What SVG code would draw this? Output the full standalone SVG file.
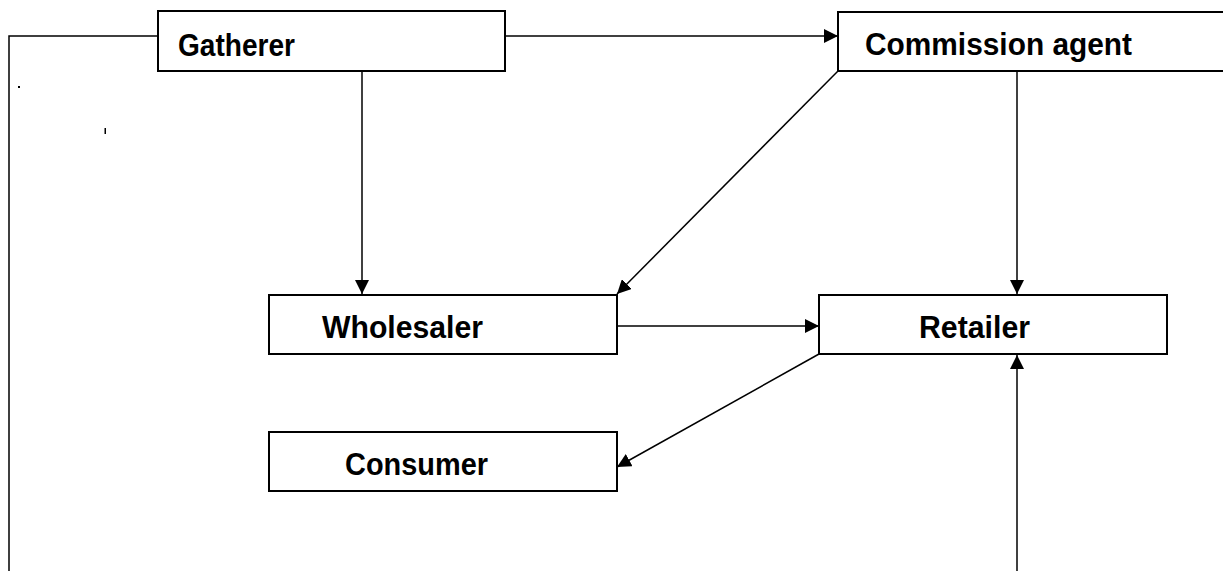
<svg xmlns="http://www.w3.org/2000/svg" width="1223" height="571" viewBox="0 0 1223 571">
<style>
.box{fill:#fff;stroke:#000;stroke-width:2}
.lbl{font-family:"Liberation Sans",Arial,sans-serif;font-weight:bold;font-size:32px;fill:#000}
.ln{fill:none;stroke:#000;stroke-width:1.5}
</style>
<defs>
<marker id="arr" markerUnits="userSpaceOnUse" markerWidth="15" markerHeight="14" refX="14" refY="7" orient="auto">
<path d="M0,0 L14,7 L0,14 z" fill="#000"/>
</marker>
</defs>
<rect width="1223" height="571" fill="#fff"/>
<g id="connectors">
<polyline class="ln" points="158,36 9,36 9,571"/>
<line class="ln" x1="505" y1="36" x2="838" y2="36" marker-end="url(#arr)"/>
<line class="ln" x1="362" y1="71" x2="362" y2="294" marker-end="url(#arr)"/>
<line class="ln" x1="838" y1="71" x2="617" y2="294" marker-end="url(#arr)"/>
<line class="ln" x1="1017" y1="71" x2="1017" y2="294" marker-end="url(#arr)"/>
<line class="ln" x1="617" y1="326" x2="819" y2="326" marker-end="url(#arr)"/>
<line class="ln" x1="819" y1="354" x2="617" y2="467" marker-end="url(#arr)"/>
<line class="ln" x1="1017" y1="571" x2="1017" y2="355" marker-end="url(#arr)"/>
</g>
<g id="marks">
<rect x="18" y="86" width="2" height="2" fill="#000"/>
<rect x="104.5" y="128" width="1.5" height="6" fill="#000"/>
</g>
<g id="gatherer">
<rect class="box" x="158" y="11" width="347" height="60"/>
<text class="lbl" x="178" y="56" textLength="117" lengthAdjust="spacingAndGlyphs">Gatherer</text>
</g>
<g id="commission-agent">
<rect class="box" x="838" y="12" width="400" height="59"/>
<text class="lbl" x="865" y="55" textLength="267" lengthAdjust="spacingAndGlyphs">Commission agent</text>
</g>
<g id="wholesaler">
<rect class="box" x="269" y="295" width="348" height="59"/>
<text class="lbl" x="322" y="338" textLength="161" lengthAdjust="spacingAndGlyphs">Wholesaler</text>
</g>
<g id="retailer">
<rect class="box" x="819" y="295" width="348" height="59"/>
<text class="lbl" x="919" y="338" textLength="111" lengthAdjust="spacingAndGlyphs">Retailer</text>
</g>
<g id="consumer">
<rect class="box" x="269" y="432" width="348" height="59"/>
<text class="lbl" x="345" y="475" textLength="143" lengthAdjust="spacingAndGlyphs">Consumer</text>
</g>
</svg>
